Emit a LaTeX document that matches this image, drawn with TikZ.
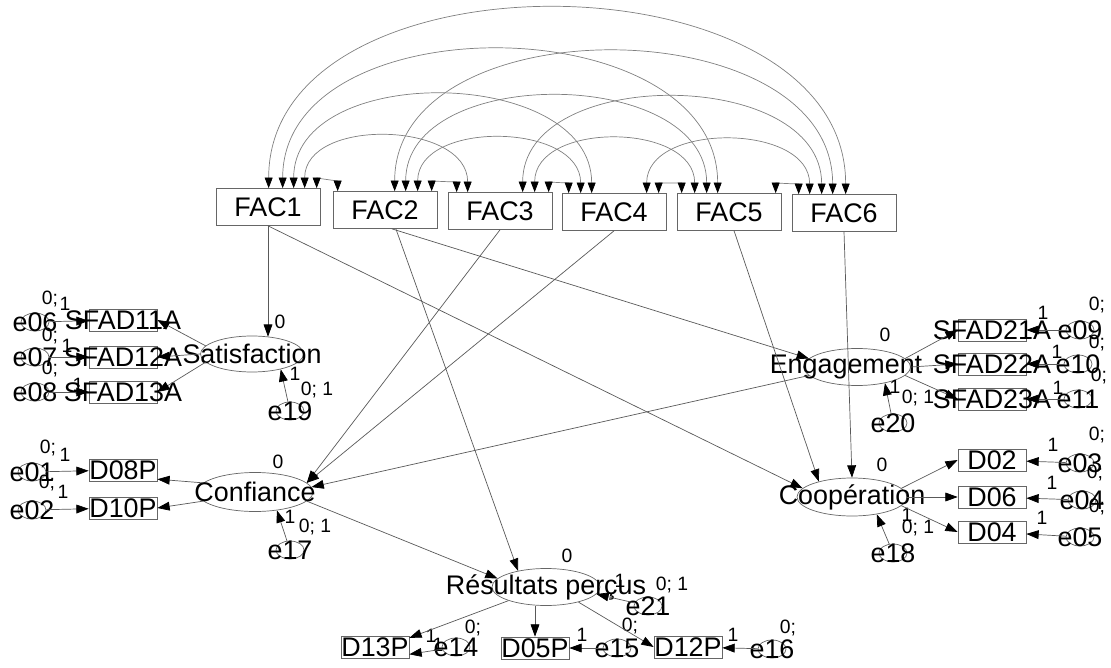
\documentclass[tikz,border=0pt]{standalone}
\usepackage{fontspec}
\setmainfont{Liberation Sans}
\usetikzlibrary{shapes.geometric,arrows.meta,calc}
\newcommand\varfont{\fontsize{15.3}{18}\selectfont}
\newcommand\parfont{\fontsize{11}{13}\selectfont}

\begin{document}
\begin{tikzpicture}[x=0.02cm,y=-0.02cm,
  fac/.style={draw=black!60,minimum width=2.08cm,minimum height=0.74cm,inner sep=0pt,font=\varfont},
  obs/.style={draw=black!60,minimum width=1.36cm,minimum height=0.44cm,inner sep=0pt},
  lat/.style={ellipse,draw=black!60,minimum width=2.16cm,minimum height=0.74cm,inner sep=0pt},
  err/.style={ellipse,draw=black!60,minimum width=0.56cm,minimum height=0.36cm,inner sep=0pt},
  every label/.style={font=\varfont,inner sep=0pt},
  par/.style={font=\parfont,inner sep=0pt},
  reg/.style={draw=black!65,-{Triangle[length=7pt,width=5pt,color=black]}},
  cov/.style={draw=black!50,{Triangle[length=6pt,width=4.5pt,color=black]}-{Triangle[length=6pt,width=4.5pt,color=black]}}]
\useasboundingbox (0,0) rectangle (1111,668);

\node[fac] (FAC1) at (268,207) {FAC1};
\node[fac] (FAC2) at (385,210) {FAC2};
\node[fac] (FAC3) at (500,211) {FAC3};
\node[fac] (FAC4) at (614,212) {FAC4};
\node[fac] (FAC5) at (729,212) {FAC5};
\node[fac] (FAC6) at (844,213) {FAC6};

\foreach \a/\sa/\b/\sb/\h in {FAC1/53/FAC6/54/243, FAC1/67/FAC5/41/187, FAC1/78/FAC4/30/127,
    FAC1/89/FAC3/20/71, FAC1/101/FAC2/5/10, FAC2/62/FAC6/41/187, FAC2/73/FAC5/30/127,
    FAC2/85/FAC4/19/71, FAC2/99/FAC3/9/10, FAC3/75/FAC6/30/127, FAC3/87/FAC5/18/71,
    FAC3/101/FAC4/7/10, FAC4/85/FAC6/18/71, FAC4/97/FAC5/5/10, FAC5/99/FAC6/7/10}
  \draw[cov] ($(\a.north west)+(\sa,0)$) .. controls +(0,-\h) and +(0,-\h) .. ($(\b.north west)+(\sb,0)$);

\node[lat,minimum width=2.06cm,minimum height=0.72cm,label={center:Satisfaction}] (Sat) at (252,354) {};
\node[obs,label={center:SFAD11A}] (S11) at (123,320) {};
\node[obs,label={center:SFAD12A}] (S12) at (123,357) {};
\node[obs,label={center:SFAD13A}] (S13) at (123,392) {};
\node[err,label={center:e06}] (e06) at (35,322) {};
\node[err,label={center:e07}] (e07) at (35,357) {};
\node[err,label={center:e08}] (e08) at (35,392) {};
\node[err,label={center:e19}] (e19) at (290,411) {};
\node[par] (m06) at (50,299) {0;};
\node[par] (w06) at (65,304) {1};
\node[par] (m07) at (50,336) {0;};
\node[par] (w07) at (67,346) {1};
\node[par] (m08) at (50,369) {0;};
\node[par] (w08) at (78,385) {1};
\node[par] (iSat) at (280,322) {0};
\node[par] (w19) at (295,374) {1};
\node[par] (m19) at (317,390) {0; 1};

\node[lat,minimum width=2.32cm,minimum height=0.78cm,label={center:Confiance}] (Conf) at (255,492) {};
\node[obs,label={center:D08P}] (D08P) at (123,470) {};
\node[obs,label={center:D10P}] (D10P) at (123,508) {};
\node[err,label={center:e01}] (e01) at (32,472) {};
\node[err,label={center:e02}] (e02) at (32,510) {};
\node[err,label={center:e17}] (e17) at (290,550) {};
\node[par] (m01) at (48,448) {0;};
\node[par] (w01) at (65,455) {1};
\node[par] (m02) at (47,483) {0;};
\node[par] (w02) at (63,492) {1};
\node[par] (iConf) at (278,462) {0};
\node[par] (w17) at (290,517) {1};
\node[par] (m17) at (315,527) {0; 1};

\node[lat,minimum width=2.14cm,label={[xshift=-0.22cm]center:Engagement}] (Eng) at (857,367) {};
\node[obs,label={center:SFAD21A}] (S21) at (992,330) {};
\node[obs,label={center:SFAD22A}] (S22) at (992,364) {};
\node[obs,label={center:SFAD23A}] (S23) at (992,399) {};
\node[err,label={center:e09}] (e09) at (1080,330) {};
\node[err,label={center:e10}] (e10) at (1078,364) {};
\node[err,label={center:e11}] (e11) at (1078,399) {};
\node[err,label={center:e20}] (e20) at (893,423) {};
\node[par] (iEng) at (885,335) {0};
\node[par] (w09) at (1043,313) {1};
\node[par] (m09) at (1097,305) {0;};
\node[par] (w10) at (1057,352) {1};
\node[par] (m10) at (1097,343) {0;};
\node[par] (w11) at (1058,388) {1};
\node[par] (m11) at (1099,376) {0;};
\node[par] (w20) at (895,387) {1};
\node[par] (m20) at (918,398) {0; 1};

\node[lat,minimum width=2.2cm,minimum height=0.76cm,label={center:Coopération}] (Coop) at (852,497) {};
\node[obs,label={center:D02}] (D02) at (992,460) {};
\node[obs,label={center:D06}] (D06) at (992,497) {};
\node[obs,label={center:D04}] (D04) at (992,532) {};
\node[err,label={center:e03}] (e03) at (1080,463) {};
\node[err,label={center:e04}] (e04) at (1082,500) {};
\node[err,label={center:e05}] (e05) at (1080,537) {};
\node[err,label={center:e18}] (e18) at (893,553) {};
\node[par] (iCoop) at (882,465) {0};
\node[par] (w03) at (1053,445) {1};
\node[par] (m03) at (1097,435) {0;};
\node[par] (w04) at (1052,483) {1};
\node[par] (m04) at (1095,473) {0;};
\node[par] (w05) at (1042,518) {1};
\node[par] (m05) at (1097,507) {0;};
\node[par] (w18) at (907,515) {1};
\node[par] (m18) at (918,528) {0; 1};

\node[lat,label={center:Résultats perçus}] (Res) at (546,587) {};
\node[obs,label={center:D13P}] (D13P) at (375,647) {};
\node[obs,label={center:D05P}] (D05P) at (535,648) {};
\node[obs,label={center:D12P}] (D12P) at (688,647) {};
\node[err,label={center:e14}] (e14) at (456,647) {};
\node[err,label={center:e15}] (e15) at (617,648) {};
\node[err,label={center:e16}] (e16) at (772,649) {};
\node[err,label={center:e21}] (e21) at (648,606) {};
\node[par] (iRes) at (567,556) {0};
\node[par] (w21) at (620,581) {1};
\node[par] (m21) at (672,585) {0; 1};
\node[par] (v13) at (431,636) {1};
\node[par] (w14) at (438,645) {1};
\node[par] (m14) at (473,628) {0;};
\node[par] (w15) at (582,635) {1};
\node[par] (m15) at (630,626) {0;};
\node[par] (w16) at (733,635) {1};
\node[par] (m16) at (788,628) {0;};

\draw[reg] (FAC1.south) -- (FAC1.south |- Sat.45);
\draw[reg] (FAC1.south) -- (Coop.170);
\draw[reg] (FAC2.-70) -- (Eng.170);
\draw[reg] (FAC2.-60) -- (Res.150);
\draw[reg] (FAC3.south) -- (Conf.10);
\draw[reg] (FAC4.south) -- (Conf.10);
\draw[reg] (FAC5.-75) -- (Coop.155);
\draw[reg] (FAC6.south) -- (Coop.north);
\draw[reg] (Eng.190) -- (Conf.5);
\draw[reg] (Conf.-10) -- (Res.170);

\draw[reg] (Sat.170) -- (S11.east);
\draw[reg] (Sat.west) -- (S12.east);
\draw[reg] (Sat.190) -- (S13.east);
\draw[reg] (e06) -- (S11);
\draw[reg] (e07) -- (S12);
\draw[reg] (e08) -- (S13);
\draw[reg] (e19) -- (Sat.-28);

\draw[reg] (Conf.170) -- (D08P.-15);
\draw[reg] (Conf.190) -- (D10P.east);
\draw[reg] (e01) -- (D08P);
\draw[reg] (e02) -- (D10P);
\draw[reg] (e17) -- (Conf.-40);

\draw[reg] (Eng.10) -- (S21.west);
\draw[reg] (Eng.east) -- (S22.west);
\draw[reg] (Eng.-10) -- (S23.west);
\draw[reg] (e09) -- (S21);
\draw[reg] (e10) -- (S22);
\draw[reg] (e11) -- (S23);
\draw[reg] (e20) -- (Eng.-30);

\draw[reg] (Coop.10) -- (D02.west);
\draw[reg] (Coop.east) -- (D06.west);
\draw[reg] (Coop.-10) -- (D04.west);
\draw[reg] (e03) -- (D02);
\draw[reg] (e04) -- (D06);
\draw[reg] (e05) -- (D04);
\draw[reg] (e18) -- (Coop.-35);

\draw[reg] (Res.200) -- (D13P.15);
\draw[reg] (D05P.north |- Res.south) -- (D05P.north);
\draw[reg] (Res.-25) -- (D12P.west);
\draw[reg] (e14) -- (D13P.-12);
\draw[reg] (e15) -- (D05P);
\draw[reg] (e16) -- (D12P);
\draw[reg] (e21) -- (Res.-8);
\end{tikzpicture}
\end{document}
